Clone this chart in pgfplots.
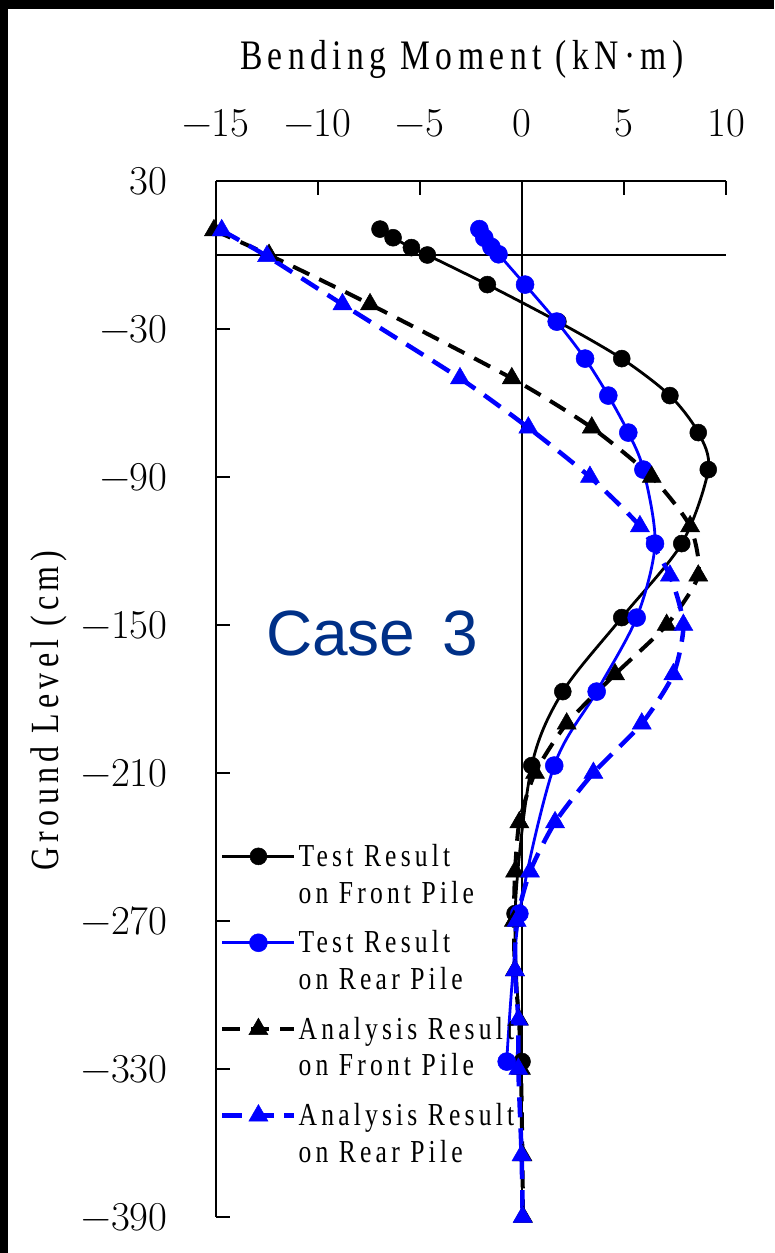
\documentclass[border=0pt]{standalone}
\usepackage{fontspec}
\usepackage{pgfplots}
\usepackage{pgfplotstable}
\pgfplotsset{compat=1.18}
\setmainfont{Latin Modern Roman}
\newfontfamily\cfont[FakeStretch=0.8,LetterSpace=13]{Liberation Serif}
\newfontfamily\afont{Liberation Sans}
\definecolor{casecol}{RGB}{0,48,135}
\definecolor{pblue}{RGB}{0,0,255}

\pgfplotstableread{
x y
-6.96 10.5
-6.32 7
-5.42 3
-4.64 0
-1.70 -12
1.76 -27
4.89 -42
7.25 -57
8.64 -72
9.13 -87
7.83 -117
4.89 -147
2.00 -177
0.48 -207
-0.34 -267
0.00 -327
}\fronttest

\pgfplotstableread{
x y
-2.09 10.5
-1.85 7
-1.50 3.3
-1.15 0.3
0.15 -12
1.70 -27
3.09 -42
4.23 -57
5.21 -72
5.95 -87
6.52 -117
5.62 -147
3.66 -177
1.58 -207
-0.13 -267
-0.75 -327
}\reartest

\pgfplotstableread{
x y
-15.10 10
-12.40 0
-7.45 -20
-0.50 -50
3.42 -70
6.36 -90
8.24 -110
8.64 -130
7.09 -150
4.56 -170
2.19 -190
0.64 -210
-0.13 -230
-0.34 -250
-0.40 -270
-0.35 -290
-0.15 -310
-0.05 -330
0.02 -365
0.05 -390
}\frontana

\pgfplotstableread{
x y
-14.72 10
-12.50 -0.5
-8.80 -20
-3.04 -50
0.31 -70
3.33 -90
5.78 -110
7.25 -130
7.91 -150
7.42 -170
5.87 -190
3.50 -210
1.62 -230
0.39 -250
-0.26 -270
-0.34 -290
-0.18 -310
-0.18 -330
-0.02 -365
0.03 -390
}\rearana

\begin{document}
\begin{tikzpicture}
\path[use as bounding box] (0,0) rectangle (774pt,-1253pt);
\fill[black] (0,0) rectangle (774pt,-9pt);
\fill[black] (0,0) rectangle (8pt,-1253pt);
\begin{axis}[
  at={(216pt,-181pt)}, anchor=north west,
  scale only axis, width=510pt, height=1036pt,
  xmin=-15, xmax=10, ymin=-390, ymax=30,
  axis x line*=top, axis y line*=left,
  axis line style={-, line width=2pt, black},
  every outer x axis line/.append style={-},
  every outer y axis line/.append style={-},
  xtick={-15,-10,...,10}, ytick={-390,-330,...,30},
  xticklabels={−15,−10,−5,0,5,10},
  yticklabels={−390,−330,−270,−210,−150,−90,−30,30},
  tick align=inside, major tick length=14pt,
  tick style={line width=2pt, black},
  ticklabel style={font=\fontsize{41}{45}\selectfont},
  xticklabel style={yshift=40pt},
  yticklabel style={xshift=-45pt},
  clip=false,
  xlabel={Bending Moment (kN·m)},
  xlabel style={at={(axis description cs:0.482,1.108)}, anchor=base, font=\cfont\fontsize{42}{46}\selectfont},
  ylabel={Ground Level (cm)},
  ylabel style={at={(axis description cs:-0.327,0.489)}, anchor=center, font=\cfont\fontsize{40}{44}\selectfont},
  legend style={at={(axis description cs:0.0078,0.362)}, anchor=north west,
    draw=none, fill=none, inner sep=0pt,
    font=\cfont\fontsize{32}{36.7}\selectfont,
    cells={anchor=base west}, row sep=58.7pt,
    /tikz/every even column/.append style={column sep=4pt}},
  legend image code/.code={
    \draw[mark repeat=2,mark phase=2,#1,yshift=10pt] plot coordinates {(0pt,0pt) (36pt,0pt) (72pt,0pt)};
  },
]
\addplot[black, line width=1.3pt, forget plot] coordinates {(-15,0) (10,0)};
\addplot[black, line width=1.3pt, forget plot] coordinates {(0,30) (0,-390)};

\addplot[black, line width=2.8pt, smooth, tension=0.5, mark=*, mark size=8.5pt, mark options={solid, line width=0.5pt}] table {\fronttest};
\addlegendentry{\vtop{\hbox{Test Result}\hbox{on Front Pile}}}
\addplot[pblue, line width=2.8pt, smooth, tension=0.5, mark=*, mark size=9pt, mark options={solid, line width=0.5pt}] table {\reartest};
\addlegendentry{\vtop{\hbox{Test Result}\hbox{on Rear Pile}}}
\addplot[black, line width=4pt, dash pattern=on 18pt off 11pt, smooth, tension=0.4, mark=triangle*, mark size=11pt, mark options={solid, line width=0.5pt}] table {\frontana};
\addlegendentry{\vtop{\hbox{Analysis Result}\hbox{on Front Pile}}}
\addplot[pblue, line width=4.5pt, dash pattern=on 20pt off 11pt, smooth, tension=0.4, mark=triangle*, mark size=11pt, mark options={solid, line width=0.5pt}] table {\rearana};
\addlegendentry{\vtop{\hbox{Analysis Result}\hbox{on Rear Pile}}}

\node[font=\afont\fontsize{64}{70}\selectfont, text=casecol] at (axis cs:-7.35,-153.6) {Case\hspace{0.42em}3};
\end{axis}
\end{tikzpicture}
\end{document}
